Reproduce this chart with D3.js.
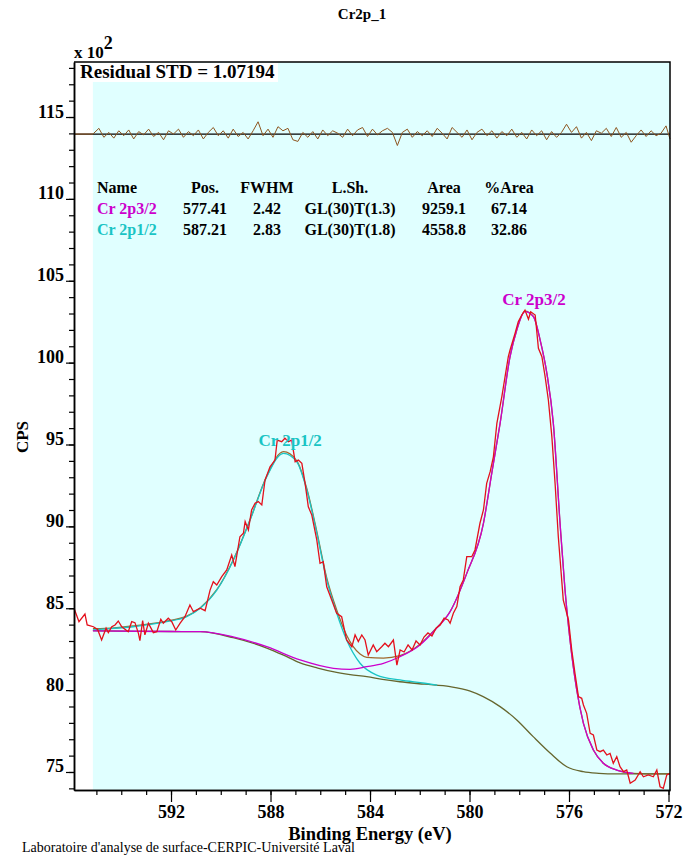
<!DOCTYPE html>
<html>
<head>
<meta charset="utf-8">
<script src="https://cdn.jsdelivr.net/npm/d3@7"></script>
<style>
body { margin: 0; background: #fff; }
svg text { font-family: "Liberation Serif", "Times New Roman", serif; }
</style>
</head>
<body>
<svg id="chart" width="683" height="861"></svg>
<script>
// [binding energy (eV), CPS x 100]
const rawData = [
  [595.90,85.00],[595.70,84.18],[595.46,84.65],[595.37,83.98],[595.12,83.87],[594.95,83.70],[594.79,83.06],[594.61,83.78],
  [594.52,83.51],[594.38,83.87],[594.25,83.98],[594.12,84.22],[593.98,83.87],[593.72,83.57],[593.58,84.18],[593.45,84.12],
  [593.31,83.47],[593.25,83.02],[593.14,84.24],[593.05,83.37],[592.91,84.08],[592.71,83.51],[592.57,83.57],[592.41,84.33],
  [592.31,84.08],[592.11,84.39],[591.97,84.18],[591.81,83.67],[591.64,84.08],[591.44,84.48],[591.24,85.20],[591.10,84.79],
  [590.83,85.00],[590.63,84.85],[590.43,86.11],[590.30,86.62],[590.16,86.42],[589.96,86.93],[589.76,87.34],[589.56,88.25],
  [589.43,87.54],[589.23,89.37],[589.09,89.58],[589.02,90.29],[588.89,89.78],[588.76,91.00],[588.62,91.41],[588.49,91.51],
  [588.35,91.31],[588.22,92.83],[588.02,93.64],[587.82,94.05],[587.73,95.27],[587.55,95.17],[587.42,95.38],[587.28,95.17],
  [587.15,95.27],[587.01,93.95],[586.88,94.05],[586.74,93.85],[586.61,92.63],[586.48,91.20],[586.34,90.69],[586.14,89.17],
  [586.01,87.74],[585.88,87.84],[585.74,86.31],[585.54,85.50],[585.34,84.69],[585.14,84.48],[584.94,83.06],[584.73,82.65],
  [584.60,83.37],[584.47,82.96],[584.33,83.37],[584.20,83.06],[584.07,82.14],[583.87,82.76],[583.73,82.35],[583.53,82.65],
  [583.40,82.86],[583.26,82.65],[583.06,83.06],[582.92,81.53],[582.79,82.45],[582.63,82.33],[582.47,82.76],[582.31,82.45],
  [582.15,83.00],[581.99,82.76],[581.83,83.24],[581.67,83.49],[581.51,83.31],[581.34,83.79],[581.18,83.98],[581.02,84.40],
  [580.86,84.28],[580.78,84.08],[580.65,84.69],[580.51,85.10],[580.38,86.32],[580.25,86.73],[580.11,88.15],[579.91,88.15],
  [579.78,88.56],[579.58,90.19],[579.44,91.00],[579.31,92.63],[579.17,93.34],[579.04,94.25],[578.90,96.29],[578.70,97.92],
  [578.57,99.14],[578.44,100.36],[578.37,100.77],[578.17,101.79],[578.04,102.50],[577.90,102.91],[577.77,103.21],[577.63,102.65],
  [577.54,103.11],[577.36,102.91],[577.23,100.88],[577.09,100.36],[576.96,99.14],[576.83,97.72],[576.69,95.48],[576.56,92.63],
  [576.43,89.37],[576.23,85.50],[576.02,84.28],[575.89,82.45],[575.76,81.03],[575.62,79.60],[575.49,79.50],[575.42,79.09],
  [575.29,78.58],[575.15,77.36],[575.02,77.26],[574.88,76.34],[574.75,76.24],[574.62,76.34],[574.48,76.04],[574.35,76.14],
  [574.22,75.53],[574.08,75.94],[573.95,75.32],[573.81,75.02],[573.68,75.12],[573.54,74.31],[573.34,74.51],[573.14,75.02],
  [573.01,74.71],[572.81,74.82],[572.61,74.71],[572.47,75.12],[572.34,74.10],[572.21,74.00],[572.07,74.82],[571.94,74.92]
];

const backgroundData = [
  [595.14,83.63],[594.0,83.60],[592.0,83.58],[590.83,83.57],[589.5,83.20],[588.15,82.57],[587.5,82.15],[586.81,81.66],
  [586.1,81.35],[585.49,81.13],[584.8,80.95],[584.13,80.82],[583.5,80.66],[582.8,80.51],[581.8,80.36],[580.78,80.21],
  [580.0,79.95],[579.45,79.60],[578.77,78.99],[578.1,78.18],[577.44,77.16],[576.76,76.16],[576.09,75.32],[575.43,75.02],
  [574.8,74.92],[574.08,74.88],[571.94,74.88]
];

const cr2p12Data = [
  [595.14,83.68],[594.85,83.71],[593.53,83.87],[592.17,84.18],[591.37,84.48],[590.83,85.00],[590.16,86.11],[589.49,87.95],
  [588.82,90.39],[588.15,93.03],[587.48,94.46],[586.95,93.95],[586.54,92.22],[586.14,89.60],[585.74,86.73],[585.34,84.71],
  [584.94,83.06],[584.4,81.64],[583.73,80.92],[582.8,80.62],[581.8,80.42],[581.3,80.30]
];

const cr2p32Data = [
  [595.14,83.62],[592.0,83.58],[590.83,83.57],[589.5,83.25],[588.15,82.65],[586.81,81.84],[585.47,81.33],[584.8,81.27],
  [584.13,81.43],[583.46,81.64],[582.8,82.04],[581.99,82.76],[581.39,83.67],[580.78,84.79],[580.11,87.13],[579.44,90.19],
  [579.1,93.30],[578.77,96.29],[578.37,100.36],[578.1,101.99],[577.77,103.11],[577.43,102.80],[577.16,101.38],[576.89,99.35],
  [576.63,96.29],[576.36,90.19],[576.16,86.11],[575.96,83.06],[575.69,80.01],[575.42,77.97],[575.02,76.34],[574.62,75.53],
  [574.08,75.12],[573.41,74.92]
];

const envelopeData = [
  [595.14,83.75],[594.85,83.75],[593.53,83.92],[592.17,84.22],[591.37,84.52],[590.83,85.02],[590.16,86.13],[589.49,87.98],
  [588.82,90.42],[588.15,93.08],[587.48,94.56],[586.95,94.02],[586.54,92.30],[586.14,89.70],[585.74,86.85],[585.34,84.90],
  [584.94,83.35],[584.4,82.20],[584.13,82.00],[583.46,81.95],[582.8,82.10],[581.99,82.80],[581.39,83.70],[580.78,84.80],
  [580.11,87.13],[579.44,90.19],[579.1,93.30],[578.77,96.29],[578.37,100.36],[578.1,101.99],[577.77,103.15],[577.43,102.82],
  [577.16,101.38],[576.89,99.35],[576.63,96.29],[576.36,90.19],[576.16,86.11],[575.96,83.06],[575.69,80.01],[575.42,77.97],
  [575.02,76.34],[574.62,75.53],[574.08,75.12],[573.41,74.92],[571.94,74.88]
];

// residual (CPS x 100), drawn around its own zero line
const residualData = [
  [595.9,0],[595.14,0],[594.9,0.35],[594.7,-0.2],[594.5,0.1],[594.3,-0.25],[594.1,0.2],[593.9,-0.1],[593.7,0.25],
  [593.5,-0.3],[593.3,0.15],[593.1,-0.05],[592.9,0.3],[592.7,-0.15],[592.5,0.1],[592.3,-0.35],[592.1,0.2],[591.9,0],
  [591.7,0.3],[591.5,-0.2],[591.3,0.15],[591.1,-0.1],[590.9,0.25],[590.7,-0.3],[590.5,0.1],[590.3,0.4],[590.1,-0.1],
  [589.9,0.2],[589.7,-0.25],[589.5,0.3],[589.3,-0.15],[589.1,0.1],[588.9,-0.3],[588.7,0.2],[588.5,0.75],[588.3,-0.1],
  [588.1,0.3],[587.9,-0.2],[587.7,0.45],[587.5,0.2],[587.3,0.35],[587.1,-0.35],[586.9,-0.45],[586.7,0.1],[586.5,-0.2],
  [586.3,0.15],[586.1,-0.3],[585.9,0.25],[585.7,-0.1],[585.5,0.2],[585.3,0.05],[585.1,-0.2],[584.9,0.3],[584.7,-0.1],
  [584.5,0.25],[584.3,0.4],[584.1,-0.15],[583.9,0.3],[583.7,-0.05],[583.5,0.2],[583.3,0.35],[583.1,0.1],[582.9,-0.7],
  [582.7,0.1],[582.5,0.3],[582.3,-0.2],[582.1,0.15],[581.9,-0.1],[581.7,0.2],[581.5,-0.15],[581.3,0.35],[581.1,0.05],
  [580.9,-0.3],[580.7,0.4],[580.5,0.1],[580.3,-0.2],[580.1,0.25],[579.9,-0.35],[579.7,0.1],[579.5,0.3],[579.3,-0.1],
  [579.1,0.2],[578.9,-0.25],[578.7,0.15],[578.5,-0.1],[578.3,0.3],[578.1,-0.2],[577.9,0.1],[577.7,-0.3],[577.5,0.25],
  [577.3,-0.1],[577.1,0.2],[576.9,-0.35],[576.7,0.15],[576.5,-0.2],[576.3,0.1],[576.1,0.6],[575.9,0.1],[575.7,0.45],
  [575.5,-0.25],[575.3,0.1],[575.1,-0.4],[574.9,0.2],[574.7,0.05],[574.5,0.35],[574.3,-0.15],[574.1,0.4],[573.9,-0.2],
  [573.7,0.1],[573.5,-0.5],[573.3,-0.1],[573.1,0.25],[572.9,-0.15],[572.7,0.2],[572.5,-0.1],[572.3,0.05],[572.1,0.5],
  [571.94,-0.3]
];
const residualZero = 113.96;

// fit table
const tableHeader = ["Name", "Pos.", "FWHM", "L.Sh.", "Area", "%Area"];
const componentNames = ["Cr 2p3/2", "Cr 2p1/2"];
const positions = [577.41, 587.21];
const fwhms = [2.42, 2.83];
const lineShapes = ["GL(30)T(1.3)", "GL(30)T(1.8)"];
const areas = [9259.1, 4558.8];
const pctAreas = [67.14, 32.86];
const peakTops = [103.11, 94.46];
const componentColors = ["#cc00cc", "#19c4c4"];

// axes
const xMajorTicks = [592, 588, 584, 580, 576, 572];
const xMinorTicks = [595, 594, 593, 592, 591, 590, 589, 588, 587, 586, 585, 584, 583, 582, 581, 580, 579, 578, 577, 576, 575, 574, 573, 572];
const yMajorTicks = [75, 80, 85, 90, 95, 100, 105, 110, 115];
const yMinorTicks = d3.range(74, 119, 1);

const svg = d3.select("#chart");
const plotLeft = 74, plotRight = 670, plotTop = 62, plotBottom = 790;

const x = d3.scaleLinear().domain([595.9, 571.94]).range([plotLeft, plotRight]);
const y = d3.scaleLinear().domain([73.9, 118.36]).range([plotBottom, plotTop]);

// plot background
svg.append("rect").attr("x", plotLeft).attr("y", plotTop)
  .attr("width", plotRight - plotLeft).attr("height", plotBottom - plotTop).attr("fill", "#fff");
svg.append("rect").attr("x", x(595.14)).attr("y", plotTop)
  .attr("width", plotRight - x(595.14)).attr("height", plotBottom - plotTop).attr("fill", "#e0ffff");
svg.append("rect").attr("x", plotLeft + 1).attr("y", plotTop + 1)
  .attr("width", 203).attr("height", 19).attr("fill", "#fff");

const bold = (sel, size) => sel.attr("font-weight", "bold").attr("font-size", size + "px");

// residual
svg.append("line").attr("x1", plotLeft).attr("x2", plotRight)
  .attr("y1", y(residualZero)).attr("y2", y(residualZero))
  .attr("stroke", "#000").attr("stroke-width", 1.2);
svg.append("path").datum(residualData)
  .attr("fill", "none").attr("stroke", "#8e5620").attr("stroke-width", 1)
  .attr("d", d3.line().x(d => x(d[0])).y(d => y(residualZero + d[1])));

const smooth = d3.line().x(d => x(d[0])).y(d => y(d[1])).curve(d3.curveMonotoneX);
const straight = d3.line().x(d => x(d[0])).y(d => y(d[1]));

// envelope under the components, raw data on top
svg.append("path").datum(envelopeData)
  .attr("fill", "none").attr("stroke", "#a0682c").attr("stroke-width", 1.3).attr("d", smooth);
svg.append("path").datum(backgroundData)
  .attr("fill", "none").attr("stroke", "#66662e").attr("stroke-width", 1.3).attr("d", smooth);
svg.append("path").datum(cr2p12Data)
  .attr("fill", "none").attr("stroke", componentColors[1]).attr("stroke-width", 1.3).attr("d", smooth);
svg.append("path").datum(cr2p32Data)
  .attr("fill", "none").attr("stroke", componentColors[0]).attr("stroke-width", 1.3).attr("d", smooth);
svg.append("path").datum(rawData)
  .attr("fill", "none").attr("stroke", "#e4101c").attr("stroke-width", 1.3).attr("d", straight);

// frame
svg.append("path")
  .attr("d", `M${plotLeft},${plotTop}H${plotRight}V${plotBottom}`)
  .attr("fill", "none").attr("stroke", "#000").attr("stroke-width", 1.5);

// x axis
const xMinor = svg.append("g").attr("transform", `translate(0,${plotBottom})`)
  .call(d3.axisBottom(x).tickValues(xMinorTicks).tickSize(5).tickSizeOuter(0).tickFormat(""));
const xAxis = svg.append("g").attr("transform", `translate(0,${plotBottom})`)
  .call(d3.axisBottom(x).tickValues(xMajorTicks).tickSize(12).tickSizeOuter(0).tickFormat(d3.format("d")));
// y axis
const yMinor = svg.append("g").attr("transform", `translate(${plotLeft},0)`)
  .call(d3.axisLeft(y).tickValues(yMinorTicks).tickSize(5).tickSizeOuter(0).tickFormat(""));
const yAxis = svg.append("g").attr("transform", `translate(${plotLeft},0)`)
  .call(d3.axisLeft(y).tickValues(yMajorTicks).tickSize(8).tickSizeOuter(0).tickFormat(d3.format("d")));

[xMinor, xAxis, yMinor, yAxis].forEach(g => {
  g.selectAll("path.domain").attr("stroke-width", 1.5);
  g.selectAll(".tick line").attr("stroke-width", 1.2);
  g.attr("font-family", null).attr("font-size", null);
});
[xAxis, yAxis].forEach(g => bold(g.selectAll("text"), 18).attr("fill", "#000"));
yAxis.selectAll("text").attr("dy", "0").attr("x", -10);

// titles
bold(svg.append("text").attr("x", 362).attr("y", 19).attr("text-anchor", "middle"), 15).text("Cr2p_1");
const xTen = bold(svg.append("text").attr("x", plotLeft).attr("y", 58), 17);
xTen.append("tspan").text("x 10");
xTen.append("tspan").attr("dy", -9).attr("font-size", "18px").text("2");
bold(svg.append("text").attr("x", 80).attr("y", 78), 19).text("Residual STD = 1.07194");
bold(svg.append("text").attr("transform", "translate(28,437) rotate(-90)").attr("text-anchor", "middle"), 17).text("CPS");
bold(svg.append("text").attr("x", 370).attr("y", 840).attr("text-anchor", "middle"), 18.5).text("Binding Energy (eV)");
svg.append("text").attr("x", 22).attr("y", 852).attr("font-size", "14px")
  .text("Laboratoire d'analyse de surface-CERPIC-Université Laval");

// fit table
const colX = [97, 205, 267, 350, 444, 509];
const rowY = [193, 214, 235];
tableHeader.forEach((h, i) => {
  bold(svg.append("text").attr("x", colX[i]).attr("y", rowY[0])
    .attr("text-anchor", i === 0 ? "start" : "middle"), 16).text(h);
});
componentNames.forEach((name, r) => {
  const cells = [name, positions[r].toFixed(2), fwhms[r].toFixed(2), lineShapes[r], areas[r].toFixed(1), pctAreas[r].toFixed(2)];
  cells.forEach((c, i) => {
    bold(svg.append("text").attr("x", colX[i]).attr("y", rowY[r + 1])
      .attr("text-anchor", i === 0 ? "start" : "middle")
      .attr("fill", i === 0 ? componentColors[r] : "#000"), 16).text(c);
  });
});

// peak labels
componentNames.forEach((name, r) => {
  bold(svg.append("text").attr("x", x(positions[r])).attr("y", y(peakTops[r]) - 7)
    .attr("text-anchor", "middle").attr("fill", componentColors[r]), 17).text(name);
});
</script>
</body>
</html>
